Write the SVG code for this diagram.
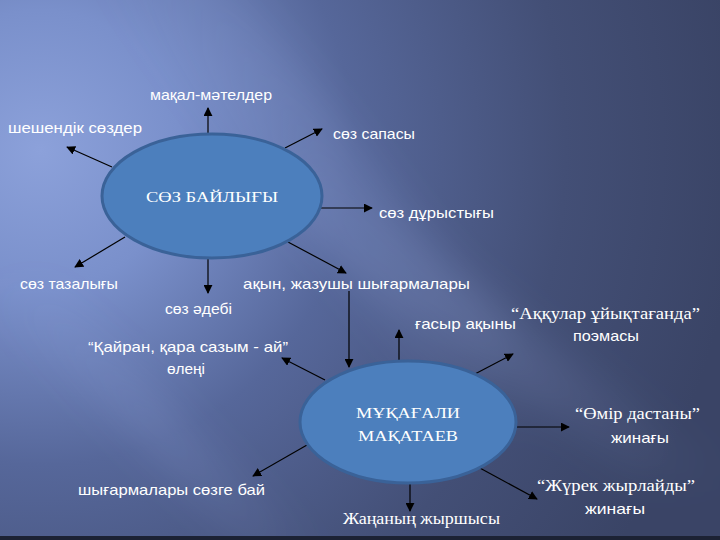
<svg xmlns="http://www.w3.org/2000/svg" width="720" height="540" viewBox="0 0 720 540">
<defs>
<radialGradient id="bg" cx="40" cy="150" r="700" gradientUnits="userSpaceOnUse">
<stop offset="0" stop-color="#8ca1da"/>
<stop offset="0.2" stop-color="#7a90cb"/>
<stop offset="0.45" stop-color="#56679a"/>
<stop offset="0.75" stop-color="#434f76"/>
<stop offset="1" stop-color="#3a4466"/>
</radialGradient>
<linearGradient id="streak" x1="0" y1="0" x2="1" y2="0">
<stop offset="0" stop-color="#9fb3ea" stop-opacity="0"/>
<stop offset="0.5" stop-color="#9fb3ea" stop-opacity="0.16"/>
<stop offset="1" stop-color="#9fb3ea" stop-opacity="0"/>
</linearGradient>
<filter id="blur" x="-20%" y="-20%" width="140%" height="140%">
<feGaussianBlur stdDeviation="18"/>
</filter>
<marker id="ah" viewBox="0 0 10 10" refX="9" refY="5" markerWidth="9" markerHeight="9" markerUnits="userSpaceOnUse" orient="auto">
<path d="M0,0 L10,5 L0,10 z" fill="#000"/>
</marker>
</defs>
<style>
.lbl{font-family:"Liberation Sans","DejaVu Sans",sans-serif;font-size:14.5px;fill:#ffffff}
.ser{font-family:"Liberation Serif","DejaVu Serif",serif;font-size:16px;fill:#ffffff}
.node{fill:#4c7fbd;stroke:#3a6298;stroke-width:3}
.ntx{font-family:"Liberation Serif","DejaVu Serif",serif;font-size:15.5px;fill:#ffffff;text-anchor:middle}
.con line{stroke:#000;stroke-width:1.2;marker-end:url(#ah)}
</style>
<rect width="720" height="540" fill="url(#bg)"/>
<g filter="url(#blur)">
<polygon points="90,-40 210,-40 580,420 460,420" fill="url(#streak)"/>
<polygon points="220,170 320,170 740,480 640,480" fill="url(#streak)"/>
<polygon points="-20,290 50,290 330,560 260,560" fill="url(#streak)"/>
</g>
<rect x="0" y="536" width="720" height="4" fill="#1c2234"/>

<g class="con">
<line x1="208" y1="133" x2="208" y2="108"/>
<line x1="112" y1="167" x2="67" y2="147"/>
<line x1="285" y1="148" x2="322" y2="129"/>
<line x1="321" y1="208" x2="372" y2="208"/>
<line x1="125" y1="237" x2="75" y2="267"/>
<line x1="208" y1="259" x2="208" y2="293"/>
<line x1="288" y1="242" x2="346" y2="273"/>
<line x1="349" y1="291" x2="349" y2="367"/>
<line x1="399" y1="362" x2="399" y2="330"/>
<line x1="473" y1="375" x2="513" y2="354"/>
<line x1="325" y1="380" x2="282" y2="358"/>
<line x1="517" y1="427" x2="569" y2="427"/>
<line x1="478" y1="467" x2="537" y2="499"/>
<line x1="410" y1="483" x2="410" y2="511"/>
<line x1="307" y1="445" x2="253" y2="476"/>
</g>

<g id="n1">
<ellipse class="node" cx="212" cy="196" rx="110" ry="62"/>
<text class="ntx" x="212" y="202" textLength="132" lengthAdjust="spacingAndGlyphs">СӨЗ  БАЙЛЫҒЫ</text>
</g>
<g id="n2">
<ellipse class="node" cx="408" cy="422" rx="108" ry="61"/>
<text class="ntx" x="408" y="418" textLength="104" lengthAdjust="spacingAndGlyphs">МҰҚАҒАЛИ</text>
<text class="ntx" x="408" y="441" textLength="100" lengthAdjust="spacingAndGlyphs">МАҚАТАЕВ</text>
</g>

<g id="labels">
<text class="lbl" x="150" y="100" textLength="122" lengthAdjust="spacingAndGlyphs">мақал-мәтелдер</text>
<text class="lbl" x="8" y="133" textLength="134" lengthAdjust="spacingAndGlyphs">шешендік  сөздер</text>
<text class="lbl" x="333" y="139" textLength="82" lengthAdjust="spacingAndGlyphs">сөз сапасы</text>
<text class="lbl" x="379" y="218" textLength="115" lengthAdjust="spacingAndGlyphs">сөз дұрыстығы</text>
<text class="lbl" x="20" y="289" textLength="98" lengthAdjust="spacingAndGlyphs">сөз тазалығы</text>
<text class="lbl" x="165" y="314" textLength="67" lengthAdjust="spacingAndGlyphs">сөз әдебі</text>
<text class="lbl" x="243" y="289" textLength="227" lengthAdjust="spacingAndGlyphs">ақын, жазушы  шығармалары</text>
<text class="lbl" x="415" y="329" textLength="101" lengthAdjust="spacingAndGlyphs">ғасыр ақыны</text>
<text class="ser" x="511" y="319" textLength="189" lengthAdjust="spacingAndGlyphs">“Аққулар  ұйықтағанда”</text>
<text class="lbl" x="573" y="341" textLength="66" lengthAdjust="spacingAndGlyphs">поэмасы</text>
<text class="lbl" x="88" y="352" textLength="200" lengthAdjust="spacingAndGlyphs">“Қайран, қара сазым - ай”</text>
<text class="lbl" x="167" y="374" textLength="38" lengthAdjust="spacingAndGlyphs">өлеңі</text>
<text class="ser" x="575" y="419" textLength="125" lengthAdjust="spacingAndGlyphs">“Өмір  дастаны”</text>
<text class="lbl" x="611" y="443" textLength="58" lengthAdjust="spacingAndGlyphs">жинағы</text>
<text class="ser" x="537" y="491" textLength="158" lengthAdjust="spacingAndGlyphs">“Жүрек  жырлайды”</text>
<text class="lbl" x="585" y="514" textLength="60" lengthAdjust="spacingAndGlyphs">жинағы</text>
<text class="ser" x="343" y="524" textLength="157" lengthAdjust="spacingAndGlyphs">Жаңаның жыршысы</text>
<text class="lbl" x="78" y="495" textLength="187" lengthAdjust="spacingAndGlyphs">шығармалары сөзге бай</text>
</g>
</svg>
